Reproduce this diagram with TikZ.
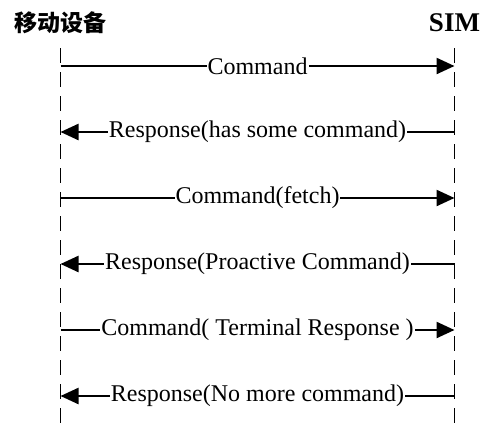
\documentclass[tikz,border=0pt]{standalone}
\usepackage{fontspec}
\setmainfont{Liberation Serif}
\newfontfamily\cjk{Noto Sans CJK SC}
\usetikzlibrary{positioning,arrows.meta}

\tikzset{
  head/.style={font=\bfseries\fontsize{27}{27}\selectfont, inner sep=0pt},
  life/.style={line width=1.8pt, dash pattern=on 15pt off 9pt},
  msg/.style={line width=2.4pt, -{Triangle[length=18pt,width=16pt]}},
  lbl/.style={fill=white, inner xsep=1pt, inner ysep=0pt, font=\fontsize{24}{24}\selectfont}
}

\begin{document}
\begin{tikzpicture}[x=1pt,y=1pt,node distance=66pt,on grid]
    \useasboundingbox (0,0) rectangle (496,-424);
    \node[head] (dev) at (60.5,-23) {\cjk\fontsize{23}{23}\selectfont 移动设备};
    \node[head] (sim) [right=394pt of dev] {SIM};
    % lifelines
    \coordinate[below=25pt of dev] (dtop);
    \coordinate[below=401pt of dev] (dbot);
    \coordinate[below=25pt of sim] (stop);
    \coordinate[below=401pt of sim] (sbot);
    \draw[life] (dtop) -- (dbot);
    \draw[life] (stop) -- (sbot);
    % message rows
    \coordinate[below=43pt of dev] (d1);
    \coordinate[below=43pt of sim] (s1);
    \foreach \i [count=\j from 2] in {1,...,5} {
      \coordinate[below=of d\i] (d\j);
      \coordinate[below=of s\i] (s\j);
    }
    \path[msg]
    (d1) edge node[lbl] {Command} (s1)
    (s2) edge node[lbl] {Response(has some command)} (d2)
    (d3) edge node[lbl] {Command(fetch)} (s3)
    (s4) edge node[lbl] {Response(Proactive Command)} (d4)
    (d5) edge node[lbl] {Command( Terminal Response )} (s5)
    (s6) edge node[lbl] {Response(No more command)} (d6)
    ; %end path
\end{tikzpicture}
\end{document}
